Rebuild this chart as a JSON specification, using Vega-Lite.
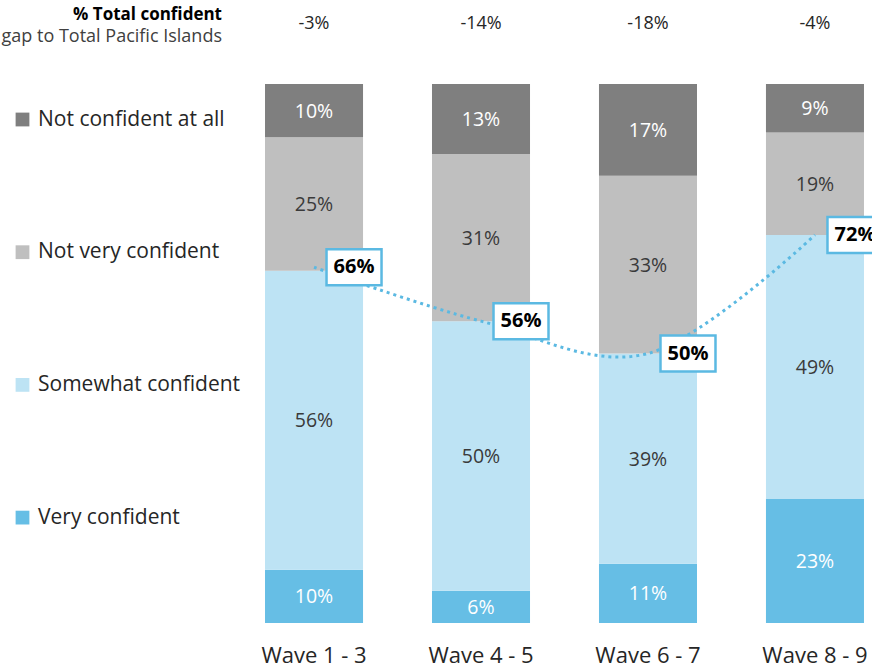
{
  "$schema": "https://vega.github.io/schema/vega-lite/v6.json",
  "width": 615,
  "height": 539,
  "autosize": {"type": "none"},
  "padding": {"left": 257, "top": 84, "right": 0, "bottom": 45},
  "background": "white",
  "config": {"view": {"stroke": null}, "font": "Open Sans"},
  "title": {
    "text": "% Total confident",
    "subtitle": "gap to Total Pacific Islands",
    "anchor": "start",
    "frame": "group",
    "align": "right",
    "dx": -35,
    "offset": -32,
    "fontSize": 17,
    "fontWeight": "bold",
    "color": "#000000",
    "subtitleFontSize": 18,
    "subtitleColor": "#404040",
    "subtitlePadding": 4
  },
  "datasets": {
    "resp": [
      {"wave": "Wave 1 - 3", "cat": "Very confident", "ord": 1, "v": 10},
      {"wave": "Wave 1 - 3", "cat": "Somewhat confident", "ord": 2, "v": 56},
      {"wave": "Wave 1 - 3", "cat": "Not very confident", "ord": 3, "v": 25},
      {"wave": "Wave 1 - 3", "cat": "Not confident at all", "ord": 4, "v": 10},
      {"wave": "Wave 4 - 5", "cat": "Very confident", "ord": 1, "v": 6},
      {"wave": "Wave 4 - 5", "cat": "Somewhat confident", "ord": 2, "v": 50},
      {"wave": "Wave 4 - 5", "cat": "Not very confident", "ord": 3, "v": 31},
      {"wave": "Wave 4 - 5", "cat": "Not confident at all", "ord": 4, "v": 13},
      {"wave": "Wave 6 - 7", "cat": "Very confident", "ord": 1, "v": 11},
      {"wave": "Wave 6 - 7", "cat": "Somewhat confident", "ord": 2, "v": 39},
      {"wave": "Wave 6 - 7", "cat": "Not very confident", "ord": 3, "v": 33},
      {"wave": "Wave 6 - 7", "cat": "Not confident at all", "ord": 4, "v": 17},
      {"wave": "Wave 8 - 9", "cat": "Very confident", "ord": 1, "v": 23},
      {"wave": "Wave 8 - 9", "cat": "Somewhat confident", "ord": 2, "v": 49},
      {"wave": "Wave 8 - 9", "cat": "Not very confident", "ord": 3, "v": 19},
      {"wave": "Wave 8 - 9", "cat": "Not confident at all", "ord": 4, "v": 9}
    ],
    "tot": [
      {"wave": "Wave 1 - 3", "total": 0.66, "gap": -3},
      {"wave": "Wave 4 - 5", "total": 0.56, "gap": -14},
      {"wave": "Wave 6 - 7", "total": 0.50, "gap": -18},
      {"wave": "Wave 8 - 9", "total": 0.72, "gap": -4}
    ]
  },
  "encoding": {
    "x": {
      "field": "wave",
      "type": "nominal",
      "sort": null,
      "scale": {"paddingInner": 0.413, "paddingOuter": 0.048},
      "axis": {
        "title": null,
        "labelAngle": 0,
        "ticks": false,
        "domain": false,
        "labelFontSize": 22,
        "labelPadding": 22,
        "labelColor": "#262626",
        "labelFontWeight": 400
      }
    }
  },
  "layer": [
    {
      "data": {"name": "resp"},
      "transform": [
        {"stack": "v", "groupby": ["wave"], "sort": [{"field": "ord", "order": "ascending"}], "offset": "normalize", "as": ["y0", "y1"]}
      ],
      "mark": {"type": "bar"},
      "encoding": {
        "y": {"field": "y0", "type": "quantitative", "scale": {"domain": [0, 1]}, "axis": null},
        "y2": {"field": "y1"},
        "color": {
          "field": "cat",
          "type": "nominal",
          "scale": {
            "domain": ["Not confident at all", "Not very confident", "Somewhat confident", "Very confident"],
            "range": ["#7f7f7f", "#bfbfbf", "#bde3f4", "#66bee5"]
          },
          "legend": {
            "title": null,
            "orient": "none",
            "legendX": -245,
            "legendY": 25,
            "direction": "vertical",
            "symbolType": "square",
            "symbolSize": 190,
            "symbolStrokeWidth": 0,
            "labelFontSize": 21,
            "labelColor": "#262626",
            "labelFontWeight": 400,
            "labelOffset": 5,
            "rowPadding": 110.7,
            "padding": 0,
            "labelLimit": 300
          }
        }
      }
    },
    {
      "data": {"name": "resp"},
      "transform": [
        {"stack": "v", "groupby": ["wave"], "sort": [{"field": "ord", "order": "ascending"}], "offset": "normalize", "as": ["y0", "y1"]},
        {"calculate": "(datum.y0 + datum.y1) / 2", "as": "mid"},
        {"calculate": "datum.v + '%'", "as": "lab"}
      ],
      "mark": {"type": "text", "fontSize": 19.5, "fontWeight": 400, "dy": 1},
      "encoding": {
        "y": {"field": "mid", "type": "quantitative"},
        "text": {"field": "lab"},
        "color": {
          "condition": {"test": "datum.cat === 'Not confident at all' || datum.cat === 'Very confident'", "value": "#ffffff"},
          "value": "#3a3a3a"
        }
      }
    },
    {
      "data": {"name": "tot"},
      "mark": {"type": "line", "interpolate": "cardinal", "strokeDash": [3, 4], "strokeWidth": 3, "color": "#5bb9e2"},
      "encoding": {
        "y": {"field": "total", "type": "quantitative"}
      }
    },
    {
      "data": {"name": "tot"},
      "mark": {
        "type": "point",
        "shape": "M-1,-0.655H1V0.655H-1Z",
        "size": 3025,
        "fill": "#ffffff",
        "stroke": "#5bb9e2",
        "strokeWidth": 2.5,
        "opacity": 1,
        "xOffset": 40
      },
      "encoding": {
        "y": {"field": "total", "type": "quantitative"}
      }
    },
    {
      "data": {"name": "tot"},
      "mark": {"type": "text", "fontSize": 20, "fontWeight": "bold", "color": "#000000", "xOffset": 40},
      "encoding": {
        "y": {"field": "total", "type": "quantitative"},
        "text": {"field": "total", "format": ".0%"}
      }
    },
    {
      "data": {"name": "tot"},
      "transform": [{"calculate": "datum.gap + '%'", "as": "gl"}],
      "mark": {"type": "text", "fontSize": 18, "fontWeight": 400, "color": "#262626"},
      "encoding": {
        "y": {"datum": 1.112},
        "text": {"field": "gl"}
      }
    }
  ]
}
